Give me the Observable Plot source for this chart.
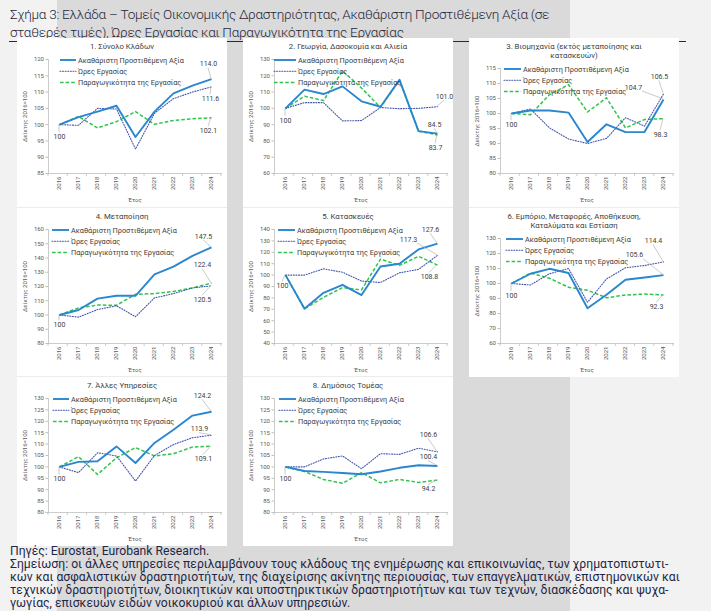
<!DOCTYPE html>
<html><head><meta charset="utf-8">
<script src="https://cdn.jsdelivr.net/npm/d3@7"></script>
<script src="https://cdn.jsdelivr.net/npm/@observablehq/plot@0.6"></script>
<style>
body{margin:0;width:711px;height:611px;position:relative;background:#f2f2f2;overflow:hidden;font-family:Roboto,"Noto Sans",sans-serif}
#bgdark{position:absolute;left:57px;top:0;width:513px;height:611px;background:#dadada}
#title{position:absolute;left:10px;top:5px;font-size:13.6px;letter-spacing:-0.3px;line-height:18px;color:#26283a;font-weight:300;white-space:nowrap}
#rule{position:absolute;left:9px;top:41px;width:677px;height:0;border-top:1.5px solid #2a2a2a}
.panel{position:absolute;width:210px;height:169px;background:#fff}
.ptitle{position:absolute;left:0;width:210px;text-align:center;font-size:7.8px;line-height:8.5px;color:#404040}
.panel svg{position:absolute;left:0;top:0}
#foot{position:absolute;left:10px;top:545px;font-size:12.2px;line-height:13.1px;color:#1f2747;white-space:nowrap}
</style></head><body>
<div id="bgdark"></div>
<div id="title">Σχήμα 3: Ελλάδα – Τομείς Οικονομικής Δραστηριότητας, Ακαθάριστη Προστιθέμενη Αξία (σε<br>σταθερές τιμές), Ώρες Εργασίας και Παραγωγικότητα της Εργασίας</div>
<div id="rule"></div>
<div id="panels"></div>
<div id="foot">Πηγές: Eurostat, Eurobank Research.<br>Σημείωση: οι άλλες υπηρεσίες περιλαμβάνουν τους κλάδους της ενημέρωσης και επικοινωνίας, των χρηματοπιστωτι-<br>κών και ασφαλιστικών δραστηριοτήτων, της διαχείρισης ακίνητης περιουσίας, των επαγγελματικών, επιστημονικών και<br>τεχνικών δραστηριοτήτων, διοικητικών και υποστηρικτικών δραστηριοτήτων και των τεχνών, διασκέδασης και ψυχα-<br>γωγίας, επισκευών ειδών νοικοκυριού και άλλων υπηρεσιών.</div>
<script>
// ---------- DATA ----------
const years = [2016, 2017, 2018, 2019, 2020, 2021, 2022, 2023, 2024];
const seriesNames = ["Ακαθάριστη Προστιθέμενη Αξία", "Ώρες Εργασίας", "Παραγωγικότητα της Εργασίας"];

// 1. Σύνολο Κλάδων
const gva1   = [100, 102.3, 104.0, 105.8, 96.2, 104.0, 109.6, 112.0, 114.0];
const hours1 = [100, 99.8, 105.0, 104.8, 92.5, 103.5, 108.0, 110.0, 111.6];
const prod1  = [100, 102.5, 99.0, 100.9, 104.0, 100.1, 101.3, 101.8, 102.1];
// 2. Γεωργία
const gva2   = [100, 111.5, 108.8, 113.5, 104.3, 101.0, 117.5, 86.0, 84.5];
const hours2 = [100, 103.5, 103.5, 92.3, 92.5, 100.5, 99.8, 100.0, 101.0];
const prod2  = [100, 107.5, 104.8, 123.0, 112.5, 100.5, 117.5, 86.0, 83.7];
// 3. Βιομηχανία
const gva3   = [100, 101.0, 101.0, 100.3, 90.5, 96.4, 93.8, 93.8, 104.7];
const hours3 = [100, 101.5, 95.2, 91.5, 90.0, 91.7, 98.6, 95.8, 106.5];
const prod3  = [100, 99.6, 106.3, 109.6, 100.5, 105.2, 95.2, 98.0, 98.3];
// 4. Μεταποίηση
const gva4   = [100, 103.5, 111.5, 113.5, 113.5, 128.5, 134.0, 141.5, 147.5];
const hours4 = [100, 98.5, 103.8, 106.5, 98.8, 112.0, 115.0, 119.0, 120.5];
const prod4  = [100, 105.0, 107.0, 106.8, 114.5, 115.0, 116.5, 119.0, 122.4];
// 5. Κατασκευές
const gva5   = [100, 70.5, 84.5, 91.5, 82.5, 107.5, 110.0, 122.5, 127.6];
const hours5 = [100, 100.0, 105.5, 102.5, 94.8, 93.5, 102.0, 105.0, 117.3];
const prod5  = [100, 70.5, 80.5, 89.0, 87.0, 114.0, 108.5, 116.5, 108.8];
// 6. Εμπόριο κλπ
const gva6   = [100, 106.5, 109.8, 107.0, 83.5, 92.5, 102.5, 104.0, 105.6];
const hours6 = [100, 99.0, 106.5, 110.0, 87.5, 103.0, 110.5, 112.0, 114.4];
const prod6  = [100, 107.0, 103.5, 97.5, 95.5, 90.5, 92.3, 93.0, 92.3];
// 7. Άλλες Υπηρεσίες
const gva7   = [100, 102.2, 102.5, 109.0, 101.7, 110.5, 116.3, 122.5, 124.2];
const hours7 = [100, 97.5, 106.2, 104.8, 93.8, 105.0, 109.8, 112.8, 113.9];
const prod7  = [100, 104.5, 96.7, 104.0, 108.5, 104.8, 105.8, 108.7, 109.1];
// 8. Δημόσιος Τομέας
const gva8   = [100, 98.2, 97.8, 97.3, 96.8, 98.0, 99.6, 100.7, 100.4];
const hours8 = [100, 100.0, 103.5, 104.8, 99.2, 105.8, 105.5, 108.2, 106.6];
const prod8  = [100, 98.0, 94.5, 92.8, 97.5, 93.0, 94.5, 93.2, 94.2];

// y axis ranges [min, max, step]
const yRange1 = [85, 120, 5];
const yRange2 = [60, 130, 10];
const yRange3 = [80, 115, 5];
const yRange4 = [80, 160, 10];
const yRange5 = [40, 140, 10];
const yRange6 = [60, 130, 10];
const yRange7 = [80, 130, 5];
const yRange8 = [80, 130, 5];

// ---------- STYLE / LAYOUT ----------
const styles = {
  gva:   {stroke: "#2b86d0", strokeWidth: 1.9, dash: null},
  hours: {stroke: "#4356ad", strokeWidth: 1.1, dash: "1,1.6"},
  prod:  {stroke: "#2ec54c", strokeWidth: 1.5, dash: "3.6,2"}
};
const keys = ["gva", "hours", "prod"];
const colX = [17, 243, 469], rowY = [38, 207, 376];

const panels = [
  {title:["1. Σύνολο Κλάδων"], series:[gva1,hours1,prod1], y:yRange1, col:0,row:0, lx:12, llen:16,
   ann:[{s:"gva",i:0,dx:0,dy:12,t:"100"},{s:"gva",i:8,dx:-3,dy:-15},{s:"hours",i:8,dx:-1,dy:12},{s:"prod",i:8,dx:-3,dy:13}]},
  {title:["2. Γεωργία, Δασοκομία και Αλιεία"], series:[gva2,hours2,prod2], y:yRange2, col:1,row:0, lx:0, llen:22,
   ann:[{s:"gva",i:0,dx:0,dy:12,t:"100"},{s:"hours",i:8,dx:7,dy:-10},{s:"gva",i:8,dx:-3,dy:-9},{s:"prod",i:8,dx:-2,dy:13}]},
  {title:["3. Βιομηχανία (εκτός μεταποίησης και","κατασκευών)"], series:[gva3,hours3,prod3], y:yRange3, col:2,row:0, lx:4, llen:17, two:true,
   ann:[{s:"gva",i:0,dx:0,dy:11,t:"100"},{s:"hours",i:8,dx:-4,dy:-17},{s:"gva",i:8,dx:-30,dy:-12},{s:"prod",i:8,dx:-3,dy:16}]},
  {title:["4. Μεταποίηση"], series:[gva4,hours4,prod4], y:yRange4, col:0,row:1, lx:4, llen:17,
   ann:[{s:"gva",i:0,dx:0,dy:10,t:"100"},{s:"gva",i:8,dx:-8,dy:-11},{s:"prod",i:8,dx:-9,dy:-18},{s:"hours",i:8,dx:-9,dy:14}]},
  {title:["5. Κατασκευές"], series:[gva5,hours5,prod5], y:yRange5, col:1,row:1, lx:4, llen:17,
   ann:[{s:"gva",i:0,dx:-3,dy:11,t:"100"},{s:"gva",i:8,dx:-7,dy:-14},{s:"hours",i:8,dx:-29,dy:-16},{s:"prod",i:8,dx:-8,dy:12}]},
  {title:["6. Εμπόριο, Μεταφορές, Αποθήκευση,","Καταλύματα και Εστίαση"], series:[gva6,hours6,prod6], y:yRange6, col:2,row:1, lx:6, llen:17, two:true,
   ann:[{s:"gva",i:0,dx:0,dy:12,t:"100"},{s:"hours",i:8,dx:-10,dy:-21},{s:"gva",i:8,dx:-29,dy:-20},{s:"prod",i:8,dx:-7,dy:12}]},
  {title:["7. Άλλες Υπηρεσίες"], series:[gva7,hours7,prod7], y:yRange7, col:0,row:2, lx:5, llen:16,
   ann:[{s:"gva",i:0,dx:0,dy:12,t:"100"},{s:"gva",i:8,dx:-9,dy:-16},{s:"hours",i:8,dx:-12,dy:-6},{s:"prod",i:8,dx:-8,dy:13}]},
  {title:["8. Δημόσιος Τομέας"], series:[gva8,hours8,prod8], y:yRange8, col:1,row:2, lx:5, llen:17,
   ann:[{s:"gva",i:0,dx:0,dy:12,t:"100"},{s:"hours",i:8,dx:-9,dy:-17},{s:"gva",i:8,dx:-9,dy:-9},{s:"prod",i:8,dx:-9,dy:9}]}
];

const W = 210, H = 169, ML = 31, MR = 6, MB = 34;
const font = "Roboto, 'Noto Sans', sans-serif";
const host = document.getElementById("panels");

panels.forEach(p => {
  const div = document.createElement("div");
  div.className = "panel";
  div.style.left = colX[p.col] + "px";
  div.style.top = rowY[p.row] + "px";
  if (p.row > 0) div.style.borderTop = "1px solid #ececec";
  host.appendChild(div);

  p.title.forEach((t, k) => {
    const td = document.createElement("div");
    td.className = "ptitle";
    td.style.top = (5 + k * 8.5) + "px";
    td.textContent = t;
    div.appendChild(td);
  });

  const MT = p.two ? 30 : 21;
  const rows = [];
  p.series.forEach((arr, si) => arr.forEach((v, i) => rows.push({year: years[i], value: v, s: keys[si]})));
  const [ymin, ymax, ystep] = p.y;

  const marks = [
    Plot.frame({anchor: "left", stroke: "#bfbfbf", strokeWidth: 0.8}),
    Plot.frame({anchor: "bottom", stroke: "#bfbfbf", strokeWidth: 0.8}),
    Plot.axisY({ticks: d3.range(ymin, ymax + 0.001, ystep), tickSize: 2.5, tickPadding: 2, stroke: "#bfbfbf",
      fontSize: 6, label: "Δείκτης 2016=100", labelAnchor: "center", labelArrow: "none", labelOffset: 26}),
    Plot.axisX({tickRotate: -90, tickSize: 0, tickPadding: 3, fontSize: 6, tickFormat: d => String(d),
      label: "Έτος", labelAnchor: "center", labelArrow: "none", labelOffset: 28}),
  ];
  ["prod", "hours", "gva"].forEach(k => {
    const st = styles[k];
    marks.push(Plot.lineY(rows.filter(d => d.s === k), {x: "year", y: "value", stroke: st.stroke,
      strokeWidth: st.strokeWidth, strokeDasharray: st.dash, strokeLinejoin: "round", strokeLinecap: k === "hours" ? "round" : "butt"}));
  });
  p.ann.forEach(a => {
    const v = p.series[keys.indexOf(a.s)][a.i];
    marks.push(Plot.text([{year: years[a.i], value: v, t: a.t || v.toFixed(1)}],
      {x: "year", y: "value", text: "t", dx: a.dx, dy: a.dy, fontSize: 7, fill: "#404040"}));
  });

  const chart = Plot.plot({
    width: W, height: H, marginTop: MT, marginBottom: MB, marginLeft: ML, marginRight: MR,
    style: {fontFamily: font, color: "#595959", background: "transparent", overflow: "visible"},
    x: {type: "point", domain: years, padding: 0.5},
    y: {domain: [ymin, ymax]},
    marks
  });
  div.appendChild(chart);

  const sx = chart.scale("x"), sy = chart.scale("y");
  const svg = d3.select(chart);
  const step = (W - ML - MR) / years.length;
  // category boundary tick marks on x axis
  const gt = svg.append("g").attr("stroke", "#bfbfbf").attr("stroke-width", 0.8);
  for (let i = 0; i <= years.length; i++) {
    const xx = ML + i * step;
    gt.append("line").attr("x1", xx).attr("x2", xx).attr("y1", H - MB).attr("y2", H - MB + 3);
  }
  // leader lines
  const gl = svg.append("g").attr("stroke", "#a6a6a6").attr("stroke-width", 0.6).attr("fill", "none");
  p.ann.forEach(a => {
    const v = p.series[keys.indexOf(a.s)][a.i];
    const px = sx.apply(years[a.i]), py = sy.apply(v);
    let ex = px + a.dx, ey = py + a.dy + (a.dy < 0 ? 4 : -4);
    if (a.dx < -15) ex = px + a.dx + 9;
    gl.append("line").attr("x1", px).attr("y1", py).attr("x2", ex).attr("y2", ey);
  });
  // legend
  const gleg = svg.append("g").attr("font-family", font).attr("font-size", 7.3)
    .attr("fill", "#404040").attr("text-anchor", "start");
  keys.forEach((k, i) => {
    const st = styles[k];
    const yy = MT + 1 + i * 11.3;
    const x0 = ML + p.lx;
    gleg.append("line").attr("x1", x0).attr("x2", x0 + p.llen).attr("y1", yy).attr("y2", yy)
      .attr("stroke", st.stroke).attr("stroke-width", st.strokeWidth)
      .attr("stroke-dasharray", st.dash).attr("stroke-linecap", k === "hours" ? "round" : "butt");
    gleg.append("text").attr("x", x0 + p.llen + 2).attr("y", yy).attr("dy", "0.35em")
      .attr("text-anchor", "start").text(seriesNames[i]);
  });
});
</script>
</body></html>
